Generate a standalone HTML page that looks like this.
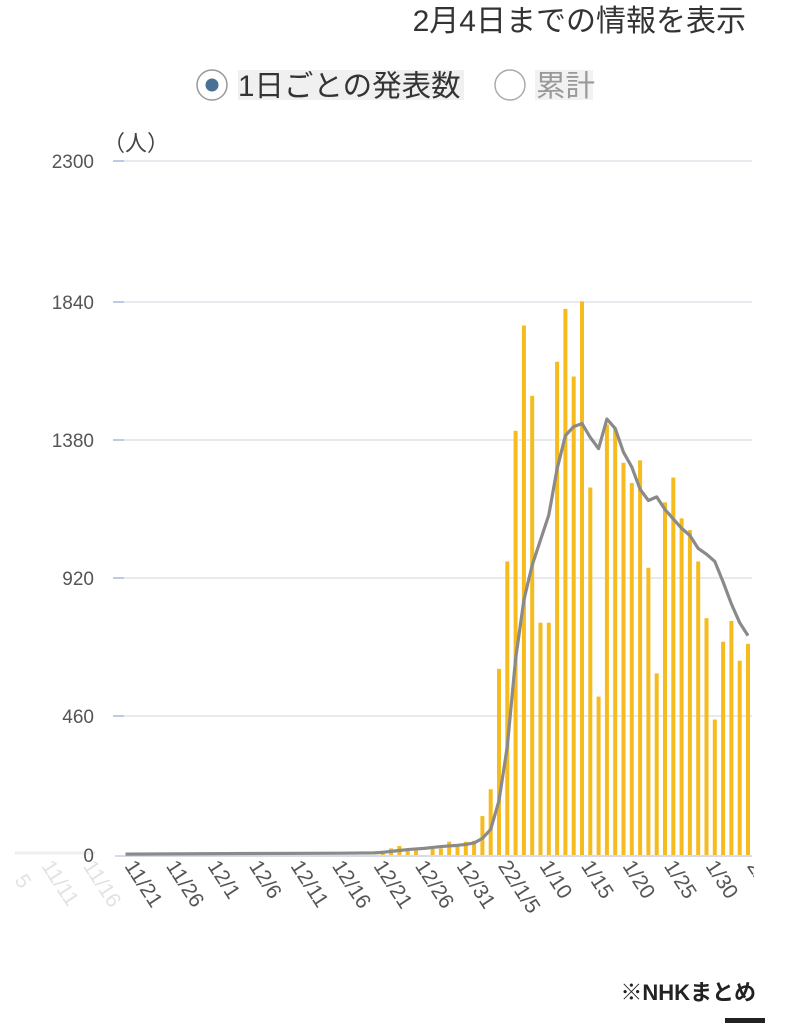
<!DOCTYPE html>
<html><head><meta charset="utf-8"><style>
html,body{margin:0;padding:0;background:#fff;}
svg{display:block;font-family:"Liberation Sans","Noto Sans CJK JP",sans-serif;}
</style></head><body>
<svg width="790" height="1023" viewBox="0 0 790 1023" xmlns="http://www.w3.org/2000/svg">
<text x="746" y="31" text-anchor="end" font-size="30" fill="#333">2月4日までの情報を表示</text>
<circle cx="212" cy="85" r="15" fill="#fff" stroke="#999" stroke-width="1.5"/>
<circle cx="212" cy="85" r="6.5" fill="#4a7193"/>
<rect x="238" y="70" width="226" height="30" fill="#f0f0f0"/>
<text x="238" y="96" font-size="29.5" fill="#333">1日ごとの発表数</text>
<circle cx="510" cy="85" r="15" fill="#fff" stroke="#aaa" stroke-width="1.5"/>
<rect x="535" y="70" width="58" height="30" fill="#f2f2f2"/>
<text x="536" y="96" font-size="29.5" fill="#999">累計</text>
<text x="103" y="151" font-size="22" fill="#444">（人）</text>
<g stroke="#e0e3ea" stroke-width="1.5">
<line x1="115" y1="161" x2="752" y2="161"/><line x1="115" y1="302" x2="752" y2="302"/>
<line x1="115" y1="440" x2="752" y2="440"/><line x1="115" y1="578" x2="752" y2="578"/>
<line x1="115" y1="716" x2="752" y2="716"/>
</g>
<g stroke="#a8bede" stroke-width="1.5">
<line x1="113" y1="161" x2="124" y2="161"/><line x1="113" y1="302" x2="124" y2="302"/>
<line x1="113" y1="440" x2="124" y2="440"/><line x1="113" y1="578" x2="124" y2="578"/>
<line x1="113" y1="716" x2="124" y2="716"/>
</g>
<line x1="15" y1="853" x2="95" y2="853" stroke="#eee" stroke-width="3"/>
<line x1="115" y1="856" x2="752" y2="856" stroke="#d5dce8" stroke-width="2"/>
<g font-size="19" fill="#555" text-anchor="end">
<text x="94" y="168">2300</text><text x="94" y="309">1840</text><text x="94" y="447">1380</text>
<text x="94" y="585">920</text><text x="94" y="723">460</text><text x="94" y="862">0</text>
</g>
<g transform="translate(0,855) scale(1,-0.3017)" fill="#f6bb1f">
<rect x="380.8" y="0" width="4" height="5"/>
<rect x="389.1" y="0" width="4" height="22"/>
<rect x="397.4" y="0" width="4" height="30"/>
<rect x="405.7" y="0" width="4" height="16"/>
<rect x="414.0" y="0" width="4" height="16"/>
<rect x="430.6" y="0" width="4" height="20"/>
<rect x="438.9" y="0" width="4" height="22"/>
<rect x="447.2" y="0" width="4" height="44"/>
<rect x="455.5" y="0" width="4" height="34"/>
<rect x="463.8" y="0" width="4" height="44"/>
<rect x="472.1" y="0" width="4" height="47"/>
<rect x="480.4" y="0" width="4" height="129"/>
<rect x="488.7" y="0" width="4" height="218"/>
<rect x="497.0" y="0" width="4" height="617"/>
<rect x="505.3" y="0" width="4" height="973"/>
<rect x="513.6" y="0" width="4" height="1406"/>
<rect x="521.9" y="0" width="4" height="1755"/>
<rect x="530.2" y="0" width="4" height="1522"/>
<rect x="538.5" y="0" width="4" height="770"/>
<rect x="546.8" y="0" width="4" height="770"/>
<rect x="555.1" y="0" width="4" height="1635"/>
<rect x="563.4" y="0" width="4" height="1810"/>
<rect x="571.7" y="0" width="4" height="1586"/>
<rect x="580.0" y="0" width="4" height="1835"/>
<rect x="588.3" y="0" width="4" height="1218"/>
<rect x="596.6" y="0" width="4" height="525"/>
<rect x="604.9" y="0" width="4" height="1427"/>
<rect x="613.2" y="0" width="4" height="1414"/>
<rect x="621.5" y="0" width="4" height="1300"/>
<rect x="629.8" y="0" width="4" height="1233"/>
<rect x="638.1" y="0" width="4" height="1308"/>
<rect x="646.4" y="0" width="4" height="952"/>
<rect x="654.7" y="0" width="4" height="602"/>
<rect x="663.0" y="0" width="4" height="1169"/>
<rect x="671.3" y="0" width="4" height="1251"/>
<rect x="679.6" y="0" width="4" height="1116"/>
<rect x="687.9" y="0" width="4" height="1077"/>
<rect x="696.2" y="0" width="4" height="973"/>
<rect x="704.5" y="0" width="4" height="785"/>
<rect x="712.8" y="0" width="4" height="449"/>
<rect x="721.1" y="0" width="4" height="707"/>
<rect x="729.4" y="0" width="4" height="776"/>
<rect x="737.7" y="0" width="4" height="644"/>
<rect x="746.0" y="0" width="4" height="700"/>
<polyline vector-effect="non-scaling-stroke" fill="none" stroke="#8a8a8a" stroke-width="3.2" stroke-linejoin="round"
points="125.5,3 250,5 340,6 374.5,7 382.8,9 391.1,12 399.4,15 407.7,18 416,20 424.3,22 432.6,25 440.9,28 449.2,30 457.5,32 465.8,35 474.1,40 482.4,55 490.7,85 499,180 507.3,360 515.6,650 523.9,845 532.2,961 540.5,1044 548.8,1127 557.1,1280 565.4,1390 573.7,1420 582,1430 590.3,1384 598.6,1347 606.9,1445 615.2,1414 623.5,1335 631.8,1286 640.1,1212 648.4,1175 656.7,1187 665,1145 673.3,1114 681.6,1083 689.9,1059 698.2,1016 706.5,997 714.8,973 723.1,905 731.4,832 739.7,770 748,727"/>
</g>
<g font-size="21" fill="#555">
<text transform="translate(124,866) rotate(57)">11/21</text>
<text transform="translate(165.5,866) rotate(57)">11/26</text>
<text transform="translate(207,866) rotate(57)">12/1</text>
<text transform="translate(248.5,866) rotate(57)">12/6</text>
<text transform="translate(290,866) rotate(57)">12/11</text>
<text transform="translate(331.5,866) rotate(57)">12/16</text>
<text transform="translate(373,866) rotate(57)">12/21</text>
<text transform="translate(414.5,866) rotate(57)">12/26</text>
<text transform="translate(456,866) rotate(57)">12/31</text>
<text transform="translate(497.5,866) rotate(57)">22/1/5</text>
<text transform="translate(539,866) rotate(57)">1/10</text>
<text transform="translate(580.5,866) rotate(57)">1/15</text>
<text transform="translate(622,866) rotate(57)">1/20</text>
<text transform="translate(663.5,866) rotate(57)">1/25</text>
<text transform="translate(705,866) rotate(57)">1/30</text>
<text transform="translate(746.5,866) rotate(57)">2/4</text>
</g>
<g font-size="21" fill="#e2e2e2">
<text transform="translate(41,866) rotate(57)">11/11</text>
<text transform="translate(82.5,866) rotate(57)">11/16</text>
<text transform="translate(14,880) rotate(57)">5</text>
</g>
<rect x="754" y="860" width="36" height="60" fill="#fff"/>
<text x="756" y="1000" text-anchor="end" font-size="22" font-weight="bold" fill="#222">※NHKまとめ</text>
<rect x="725" y="1018" width="40" height="5" fill="#222"/>
</svg>
</body></html>
